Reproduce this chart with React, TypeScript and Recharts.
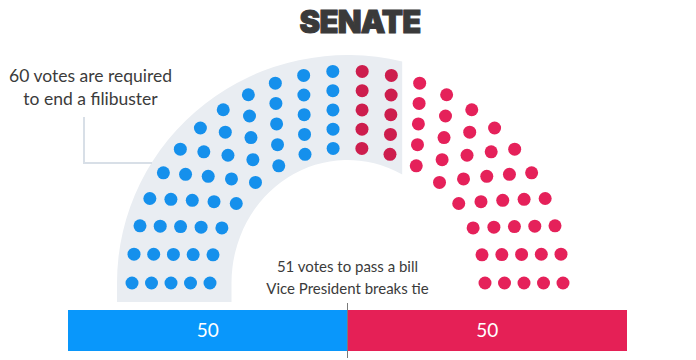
import {
  Bar,
  BarChart,
  LabelList,
  ReferenceLine,
  Scatter,
  ScatterChart,
  XAxis,
  YAxis,
} from "recharts";

// party seats, left to right
const PARTY_NAMES = ["Democrats", "Republicans"];
const PARTY_SEATS = [50, 50];
const FILIBUSTER_VOTES = 60;
// seats in each arc, inner to outer
const ROW_SEATS = [16, 18, 20, 22, 24];

const W = 696;
const H = 360;
const CX = 347.5;
const CY = 283;
const R_INNER = 137.5;
const ROW_GAP = 19.5;
const Y_SQUASH = 0.984;
const DOT_R = 6.5;

const BLUE_DOT = "#1590ec";
const RED_DOT = "#e5215a";
const DARK_RED_DOT = "#cd1d4d";
const BLUE_BAR = "#0997fb";
const RED_BAR = "#e52056";
const BAND = "#e9edf2";
const TEXT = "#3b3b3b";
const FONT = "Lato, 'Open Sans', sans-serif";

type Seat = { x: number; y: number; angle: number; row: number };

function buildSeats(): Seat[] {
  const seats: Seat[] = [];
  ROW_SEATS.forEach((n, row) => {
    const r = R_INNER + row * ROW_GAP;
    for (let j = 0; j < n; j++) {
      const a = Math.PI - (j * Math.PI) / (n - 1);
      seats.push({ x: r * Math.cos(a), y: r * Math.sin(a), angle: a, row });
    }
  });
  return seats.sort((p, q) => q.angle - p.angle || p.row - q.row);
}

const seats = buildSeats();
const demCount = PARTY_SEATS[0];
const blueSeats = seats.slice(0, demCount);
const darkRedSeats = seats.slice(demCount, FILIBUSTER_VOTES);
const redSeats = seats.slice(FILIBUSTER_VOTES);

// band edge sits between the 60th seat and the next one, on outer and inner arcs
function bandEdgeX(): number {
  const xs: number[] = [];
  [0, ROW_SEATS.length - 1].forEach((row) => {
    const inBand = seats.slice(0, FILIBUSTER_VOTES).filter((s) => s.row === row);
    const outBand = seats.slice(FILIBUSTER_VOTES).filter((s) => s.row === row);
    const a = (inBand[inBand.length - 1].angle + outBand[0].angle) / 2;
    const r = R_INNER + row * ROW_GAP + (row === 0 ? -21.5 : 15);
    xs.push(r * Math.cos(a));
  });
  return (xs[0] + xs[1]) / 2;
}
const EDGE_X = bandEdgeX();

const barData = [{ name: "Senate", dem: PARTY_SEATS[0], rep: PARTY_SEATS[1] }];

function BandShape(props: any) {
  const { cx, cy } = props;
  const rxO = 230.5;
  const ryO = 228;
  const rxI = 116;
  const ryI = 123;
  const drop = 19;
  const yO = cy - ryO * Math.sqrt(1 - (EDGE_X / rxO) ** 2);
  const yI = cy - ryI * Math.sqrt(1 - (EDGE_X / rxI) ** 2);
  const d = [
    `M ${cx - rxO} ${cy + drop}`,
    `L ${cx - rxO} ${cy}`,
    `A ${rxO} ${ryO} 0 0 1 ${cx + EDGE_X} ${yO}`,
    `L ${cx + EDGE_X} ${yI}`,
    `A ${rxI} ${ryI} 0 0 0 ${cx - rxI} ${cy}`,
    `L ${cx - rxI} ${cy + drop}`,
    "Z",
  ].join(" ");
  return <path d={d} fill={BAND} />;
}

function dot(fill: string) {
  return (p: any) => <circle cx={p.cx} cy={p.cy} r={DOT_R} fill={fill} />;
}

export default function App() {
  const yMax = CY / Y_SQUASH;
  const yMin = -(H - CY) / Y_SQUASH;
  return (
    <div
      style={{
        position: "fixed",
        left: 0,
        top: 0,
        width: W,
        height: H,
        background: "#fff",
        fontFamily: FONT,
        overflow: "hidden",
      }}
    >
      <div style={{ position: "absolute", left: 0, top: 0 }}>
        <ScatterChart width={W} height={H} margin={{ top: 0, right: 0, bottom: 0, left: 0 }}>
          <XAxis type="number" dataKey="x" domain={[-CX, W - CX]} allowDataOverflow hide />
          <YAxis type="number" dataKey="y" domain={[yMin, yMax]} allowDataOverflow hide />
          <Scatter data={[{ x: 0, y: 0 }]} shape={BandShape} isAnimationActive={false} />
          <Scatter name={PARTY_NAMES[0]} data={blueSeats} shape={dot(BLUE_DOT)} isAnimationActive={false} />
          <Scatter name={PARTY_NAMES[1]} data={darkRedSeats} shape={dot(DARK_RED_DOT)} isAnimationActive={false} />
          <Scatter name={PARTY_NAMES[1]} data={redSeats} shape={dot(RED_DOT)} isAnimationActive={false} />
        </ScatterChart>
      </div>

      <div style={{ position: "absolute", left: 68, top: 303 }}>
        <BarChart
          width={559}
          height={55}
          data={barData}
          layout="vertical"
          margin={{ top: 0, right: 0, bottom: 0, left: 0 }}
          barSize={41}
        >
          <XAxis type="number" domain={[0, demCount + PARTY_SEATS[1]]} hide />
          <YAxis type="category" dataKey="name" hide />
          <Bar dataKey="dem" stackId="s" fill={BLUE_BAR} isAnimationActive={false}>
            <LabelList dataKey="dem" position="center" fill="#fff" fontSize={19} fontFamily={FONT} />
          </Bar>
          <Bar dataKey="rep" stackId="s" fill={RED_BAR} isAnimationActive={false}>
            <LabelList dataKey="rep" position="center" fill="#fff" fontSize={19} fontFamily={FONT} />
          </Bar>
          <ReferenceLine x={demCount} stroke="#7a7a7a" strokeWidth={1} />
        </BarChart>
      </div>

      <div
        style={{
          position: "absolute",
          left: 160,
          width: 400,
          top: 3,
          textAlign: "center",
          fontFamily: "Inter, 'DejaVu Sans', sans-serif",
          fontWeight: 900,
          fontSize: 31,
          letterSpacing: -0.8,
          color: "#3a3a3a",
          WebkitTextStroke: "1px #3a3a3a",
          lineHeight: "38px",
        }}
      >
        SENATE
      </div>

      <div
        style={{
          position: "absolute",
          left: 0,
          width: 181,
          top: 64,
          textAlign: "center",
          fontSize: 17.5,
          lineHeight: "23px",
          color: TEXT,
        }}
      >
        60 votes are required
        <br />
        to end a filibuster
      </div>
      <div
        style={{
          position: "absolute",
          left: 83,
          top: 117,
          width: 67,
          height: 45,
          borderLeft: "2px solid #d8dfe7",
          borderBottom: "2px solid #d8dfe7",
        }}
      />

      <div
        style={{
          position: "absolute",
          left: 0,
          width: W - 1,
          top: 255,
          textAlign: "center",
          fontSize: 15,
          lineHeight: "22px",
          color: TEXT,
        }}
      >
        51 votes to pass a bill
        <br />
        Vice President breaks tie
      </div>
    </div>
  );
}
